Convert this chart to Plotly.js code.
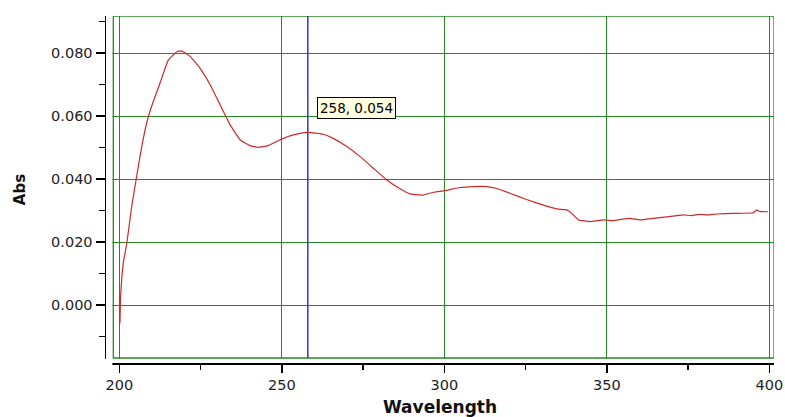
<!DOCTYPE html>
<html>
<head>
<meta charset="utf-8">
<script src="https://cdn.plot.ly/plotly-3.0.1.min.js"></script>
<style>
  html, body { margin: 0; padding: 0; background: #fff; }
  #chart { width: 785px; height: 417px; }
</style>
</head>
<body>
<div id="chart"></div>
<script>
// Spectrum
const wavelength = [
  200.2, 200.4, 201.2, 202.3, 203.8, 205.3, 206.9, 208.4, 209.9, 212.5,
  215.1, 217.7, 219.2, 221.7, 224.8, 227.9, 231.0, 234.1, 237.2, 240.2,
  242.7, 245.8, 249.4, 252.5, 255.6, 258.0, 262.8, 265.8, 270.0, 274.1,
  278.2, 282.3, 286.4, 289.4, 293.5, 296.7, 300.2, 304.8, 308.9, 313.1,
  316.1, 320.2, 325.3, 330.5, 334.6, 337.7, 339.2, 341.3, 344.8, 349.0,
  352.0, 354.5, 357.1, 360.2, 364.3, 368.4, 373.6, 376.0, 378.7, 381.0,
  383.8, 388.9, 395.1, 396.1, 397.0, 399.6
];
const absorbance = [
  -0.0058, 0.0026, 0.0132, 0.0196, 0.0312, 0.0407, 0.0503, 0.0577, 0.0630, 0.0704,
  0.0778, 0.0804, 0.0807, 0.0790, 0.0752, 0.0700, 0.0636, 0.0572, 0.0524, 0.0506,
  0.0500, 0.0506, 0.0524, 0.0537, 0.0545, 0.0548, 0.0542, 0.0529, 0.0503, 0.0471,
  0.0434, 0.0397, 0.0369, 0.0353, 0.0349, 0.0358, 0.0363, 0.0373, 0.0376, 0.0376,
  0.0370, 0.0355, 0.0335, 0.0317, 0.0305, 0.0302, 0.0291, 0.0270, 0.0265, 0.0270,
  0.0268, 0.0272, 0.0275, 0.0270, 0.0275, 0.0280, 0.0286, 0.0284, 0.0288, 0.0286,
  0.0289, 0.0291, 0.0293, 0.0302, 0.0297, 0.0296
];
// Cursor readout
const cursorWavelength = 258;
const cursorAbs = 0.054;
const cursorLabel = cursorWavelength + ", " + cursorAbs.toFixed(3);

const xTickVals = [200, 250, 300, 350, 400];
const yTickVals = [0.000, 0.020, 0.040, 0.060, 0.080];

const GREEN = '#258a25';
const tickFont = { family: 'DejaVu Sans, Arial, sans-serif', size: 14.5, color: '#222' };
const titleFont = { family: 'DejaVu Sans, Arial, sans-serif', size: 17, color: '#111', weight: 'bold' };

const X_RANGE = [195.9, 401.45];
const Y_RANGE = [-0.01841, 0.09175];
// inner framed box edges (axis units)
const FRAME_LEFT = 198.15;
const FRAME_BOTTOM = -0.01683;

const trace = {
  x: wavelength,
  y: absorbance,
  type: 'scatter',
  mode: 'lines',
  line: { color: '#cc2a2a', width: 1.2, shape: 'spline', smoothing: 0.3 },
  hoverinfo: 'x+y',
  showlegend: false
};

const layout = {
  width: 785,
  height: 417,
  margin: { l: 106, r: 11, t: 16, b: 54 },
  paper_bgcolor: '#ffffff',
  plot_bgcolor: '#ffffff',
  showlegend: false,
  xaxis: {
    range: X_RANGE,
    tickmode: 'array',
    tickvals: xTickVals,
    ticktext: xTickVals.map(String),
    showgrid: true,
    gridcolor: GREEN,
    gridwidth: 1,
    zeroline: false,
    showline: true,
    linecolor: '#000',
    linewidth: 1.5,
    ticks: 'outside',
    ticklen: 8,
    tickwidth: 1.5,
    tickcolor: '#000',
    minor: { tick0: 200, dtick: 25, ticks: 'outside', ticklen: 5, tickwidth: 1.5, tickcolor: '#000', showgrid: false },
    tickfont: tickFont,
    title: { text: 'Wavelength', font: titleFont, standoff: 10 },
    fixedrange: true
  },
  yaxis: {
    range: Y_RANGE,
    tickmode: 'array',
    tickvals: yTickVals,
    ticktext: yTickVals.map(v => v.toFixed(3)),
    showgrid: true,
    gridcolor: GREEN,
    gridwidth: 1,
    zeroline: false,
    showline: true,
    linecolor: '#000',
    linewidth: 1.5,
    ticks: 'outside',
    ticklen: 9,
    tickwidth: 1.5,
    tickcolor: '#000',
    minor: { tick0: 0, dtick: 0.01, ticks: 'outside', ticklen: 6, tickwidth: 1.5, tickcolor: '#000', showgrid: false },
    tickfont: tickFont,
    title: { text: 'Abs', font: { family: 'DejaVu Sans, Arial, sans-serif', size: 15, color: '#111', weight: 'bold' }, standoff: 22 },
    fixedrange: true
  },
  shapes: [
    // white masks so grid lines stop at the inner frame
    { type: 'rect', xref: 'x', yref: 'y', x0: X_RANGE[0] - 1, x1: FRAME_LEFT - 0.3, y0: Y_RANGE[0] - 0.001, y1: Y_RANGE[1] + 0.001,
      fillcolor: '#fff', line: { width: 0 }, layer: 'between' },
    { type: 'rect', xref: 'x', yref: 'y', x0: X_RANGE[0] - 1, x1: X_RANGE[1] + 1, y0: Y_RANGE[0] - 0.001, y1: FRAME_BOTTOM - 0.0002,
      fillcolor: '#fff', line: { width: 0 }, layer: 'between' },
    // inner green frame
    { type: 'rect', xref: 'x', yref: 'y', x0: FRAME_LEFT, x1: X_RANGE[1], y0: FRAME_BOTTOM, y1: Y_RANGE[1],
      line: { color: GREEN, width: 1.3 }, fillcolor: 'rgba(0,0,0,0)', layer: 'between' },
    // cursor line
    { type: 'line', xref: 'x', yref: 'y', x0: cursorWavelength, x1: cursorWavelength, y0: FRAME_BOTTOM, y1: Y_RANGE[1],
      line: { color: '#3434c4', width: 1.5 }, layer: 'between' },
    // break the axis lines at the corner
    { type: 'rect', xref: 'paper', yref: 'paper', x0: -0.006, x1: 0.0095, y0: -0.012, y1: 0.012,
      fillcolor: '#fff', line: { width: 0 }, layer: 'above' }
  ],
  annotations: [
    {
      x: cursorWavelength, xref: 'x',
      y: 0.0624, yref: 'y',
      xanchor: 'left', yanchor: 'middle',
      xshift: 9,
      text: cursorLabel,
      showarrow: false,
      font: { family: 'DejaVu Sans, Arial, sans-serif', size: 13.5, color: '#000' },
      bgcolor: '#ffffe1',
      bordercolor: '#000',
      borderwidth: 1,
      borderpad: 2
    }
  ]
};

Plotly.newPlot('chart', [trace], layout, { displayModeBar: false, staticPlot: true });
</script>
</body>
</html>
